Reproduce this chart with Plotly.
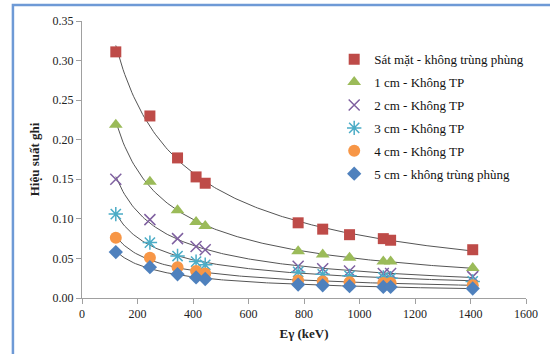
import numpy as np
import plotly.graph_objects as go

energy = [121.8, 244.7, 344.3, 411.1, 444.0, 778.9, 867.4, 964.1, 1085.8, 1112.1, 1408.0]

names = [
    "Sát mặt - không trùng phùng",
    "1 cm - Không TP",
    "2 cm - Không TP",
    "3 cm - Không TP",
    "4 cm - Không TP",
    "5 cm - không trùng phùng",
]
eff_0cm = [0.311, 0.230, 0.177, 0.153, 0.145, 0.095, 0.087, 0.080, 0.075, 0.073, 0.061]
eff_1cm = [0.219, 0.147, 0.111, 0.096, 0.091, 0.059, 0.055, 0.051, 0.046, 0.046, 0.038]
eff_2cm = [0.150, 0.099, 0.075, 0.065, 0.061, 0.040, 0.037, 0.034, 0.031, 0.031, 0.027]
eff_3cm = [0.106, 0.070, 0.053, 0.046, 0.042, 0.033, 0.030, 0.028, 0.026, 0.025, 0.021]
eff_4cm = [0.076, 0.051, 0.039, 0.034, 0.031, 0.022, 0.021, 0.020, 0.019, 0.019, 0.016]
eff_5cm = [0.058, 0.039, 0.030, 0.026, 0.024, 0.017, 0.016, 0.015, 0.014, 0.014, 0.012]
series = [eff_0cm, eff_1cm, eff_2cm, eff_3cm, eff_4cm, eff_5cm]

colors = ["#BE4B48", "#9BBB59", "#7F60A0", "#4BACC6", "#F79646", "#4F81BD"]
symbols = ["square", "triangle-up", "x-thin-open", "asterisk-open", "circle", "diamond"]
sizes = [11, 12, 11, 12, 12, 11]

fig = go.Figure()
x = np.array(energy)
xs = np.linspace(x.min(), x.max(), 200)
for vals in series:
    c = np.polyfit(np.log(x), np.log(np.array(vals)), 2)
    fig.add_trace(go.Scatter(x=xs, y=np.exp(np.polyval(c, np.log(xs))), mode="lines",
                             line=dict(color="#555555", width=1), showlegend=False,
                             hoverinfo="skip"))
for i, (nm, vals) in enumerate(zip(names, series)):
    mk = dict(symbol=symbols[i], color=colors[i], size=sizes[i])
    if "open" in symbols[i]:
        mk["line"] = dict(color=colors[i], width=1.5)
    else:
        mk["line"] = dict(width=0)
    fig.add_trace(go.Scatter(x=energy, y=vals, mode="markers", name=nm, marker=mk,
                             legendgroup=str(i)))

font = "Liberation Serif, Times New Roman, serif"
fig.update_layout(
    width=550, height=354,
    margin=dict(l=82, r=18, t=21, b=56),
    paper_bgcolor="white", plot_bgcolor="white",
    font=dict(family=font, size=12, color="#222222"),
    legend=dict(x=0.568, y=0.916, xanchor="left", yanchor="top",
                font=dict(size=13, family=font, color="#111111"),
                bgcolor="rgba(0,0,0,0)", tracegroupgap=3, itemwidth=30),
    xaxis=dict(range=[0, 1600], tick0=0, dtick=200, showgrid=False, zeroline=False,
               showline=True, linecolor="#A0A0A0", ticks="outside", tickcolor="#A0A0A0",
               ticklen=5, title=dict(text="<b>Eγ (keV)</b>", font=dict(size=13), standoff=8)),
    yaxis=dict(range=[0, 0.35], dtick=0.05, tickformat=".2f", showgrid=False, zeroline=False,
               showline=True, linecolor="#A0A0A0", ticks="outside", tickcolor="#A0A0A0",
               ticklen=5, title=dict(text="<b>Hiệu suất ghi</b>", font=dict(size=13), standoff=10)),
    shapes=[dict(type="rect", xref="paper", yref="paper",
                 x0=-70/450, x1=1.2, y0=-0.5, y1=1 + 16/277,
                 line=dict(color="#6E9AD6", width=2.5), layer="below")],
)
fig.write_html("out.html")
